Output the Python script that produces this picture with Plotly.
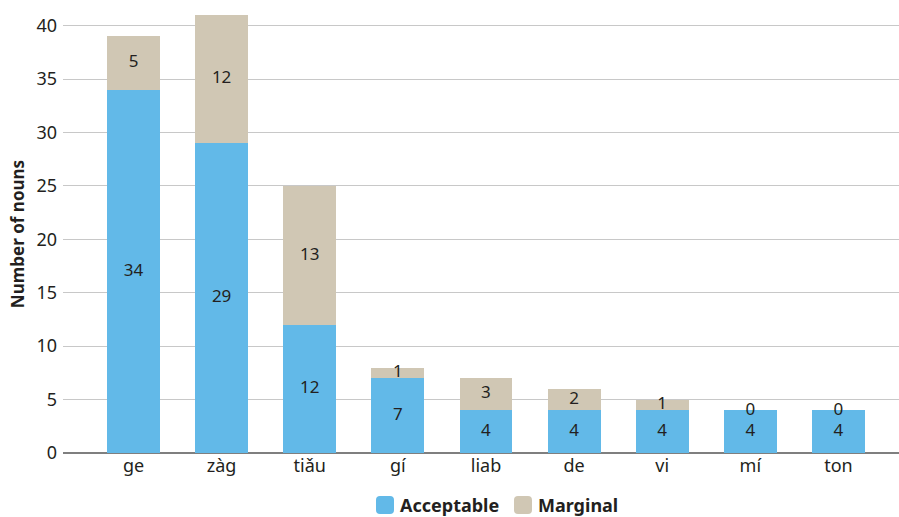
import plotly.graph_objects as go

# Nouns per classifier, split by judgement
classifiers = ["ge", "zàg", "tiǎu", "gí", "liab", "de", "vi", "mí", "ton"]
acceptable = [34, 29, 12, 7, 4, 4, 4, 4, 4]
marginal = [5, 12, 13, 1, 3, 2, 1, 0, 0]
y_ticks = [0, 5, 10, 15, 20, 25, 30, 35, 40]

BLUE = "#62B9E8"
BEIGE = "#D0C7B4"
INK = "#231F20"
FONT = "Noto Sans"

W, H = 899, 517
ML, MR, MT, MB = 63, 0, 15, 64
PW, PH = W - ML - MR, H - MT - MB

fig = go.Figure()
fig.add_trace(go.Bar(x=classifiers, y=acceptable, name="Acceptable",
                     marker=dict(color=BLUE, line=dict(width=0)), width=0.6))
fig.add_trace(go.Bar(x=classifiers, y=marginal, name="Marginal",
                     marker=dict(color=BEIGE, line=dict(width=0)), width=0.6))

# Segment value labels, centred in each stacked segment
fig.add_trace(go.Scatter(
    x=classifiers, y=[a / 2 for a in acceptable], mode="text",
    text=[str(a) for a in acceptable],
    textfont=dict(family=FONT, size=17, color=INK), showlegend=False,
    hoverinfo="skip"))
fig.add_trace(go.Scatter(
    x=classifiers, y=[a + m / 2 for a, m in zip(acceptable, marginal)],
    mode="text", text=[str(m) for m in marginal],
    textfont=dict(family=FONT, size=17, color=INK), showlegend=False,
    hoverinfo="skip"))


def px_to_paper(px, py):
    return (px - ML) / PW, (H - MB - py) / PH


def rounded_square(x0, y0, size, r):
    pts = []
    x1, y1 = x0 + size, y0 + size
    segs = [
        ("M", (x0 + r, y0)), ("L", (x1 - r, y0)), ("Q", (x1, y0), (x1, y0 + r)),
        ("L", (x1, y1 - r)), ("Q", (x1, y1), (x1 - r, y1)),
        ("L", (x0 + r, y1)), ("Q", (x0, y1), (x0, y1 - r)),
        ("L", (x0, y0 + r)), ("Q", (x0, y0), (x0 + r, y0)),
    ]
    for seg in segs:
        cmd, *coords = seg
        parts = []
        for cx, cy in coords:
            a, b = px_to_paper(cx, cy)
            parts.append(f"{a:.5f},{b:.5f}")
        pts.append(cmd + " ".join(parts))
    return " ".join(pts) + " Z"


# Legend below the plot
legend_items = [("Acceptable", BLUE, 376), ("Marginal", BEIGE, 514)]
shapes = []
annotations = []
for label, color, sx in legend_items:
    shapes.append(dict(type="path", xref="paper", yref="paper",
                       path=rounded_square(sx, 496, 18, 4),
                       fillcolor=color, line=dict(width=0)))
    lx, ly = px_to_paper(sx + 22, 505)
    annotations.append(dict(x=lx, y=ly, xref="paper", yref="paper",
                            text=f"<b>{label}</b>", showarrow=False,
                            xanchor="left", yanchor="middle",
                            font=dict(family=FONT, size=18, color=INK)))

fig.update_layout(
    barmode="stack",
    width=W, height=H,
    margin=dict(l=ML, r=MR, t=MT, b=MB),
    paper_bgcolor="white", plot_bgcolor="white",
    showlegend=False,
    shapes=shapes,
    annotations=annotations,
    font=dict(family=FONT, color=INK),
    xaxis=dict(range=[-0.8, 8.687], showgrid=False, showline=False,
               zeroline=False, ticks="", tickfont=dict(size=18, color=INK),
               fixedrange=True),
    yaxis=dict(range=[0, 41], tickvals=y_ticks, showgrid=True,
               gridcolor="#C8C8C8", gridwidth=1, zeroline=True,
               zerolinecolor="#7F7F7F", zerolinewidth=1.5,
               ticks="", ticklabelstandoff=5,
               tickfont=dict(size=18, color=INK),
               title=dict(text="<b>Number of nouns</b>", standoff=7,
                          font=dict(size=17, color=INK)),
               fixedrange=True),
)

fig.write_html("out.html")
